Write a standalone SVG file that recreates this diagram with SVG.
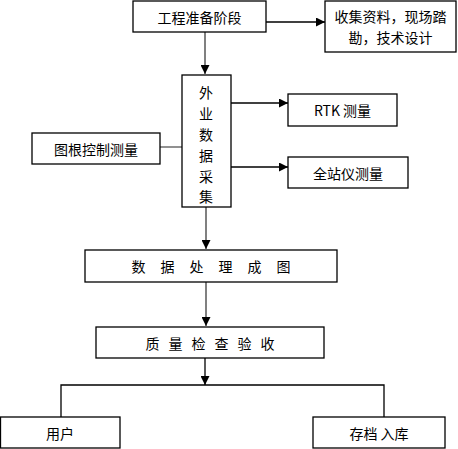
<svg xmlns="http://www.w3.org/2000/svg" width="458" height="449" viewBox="0 0 458 449">
<defs>
<marker id="ah" viewBox="0 0 10 10" refX="10" refY="5" markerWidth="9" markerHeight="9" markerUnits="userSpaceOnUse" orient="auto">
<path d="M0,0 L10,5 L0,10 Z" fill="#000"/>
</marker>
</defs>
<style>
.box{fill:#fff;stroke:#000;stroke-width:1.3}
.t{font-family:"Noto Sans CJK SC","Liberation Sans",sans-serif;font-size:14px;fill:#000;text-anchor:middle;dominant-baseline:central}
.h{stroke:#000;stroke-width:1.3;fill:none}
.v{stroke:#808080;stroke-width:2;fill:none}
</style>
<rect width="458" height="449" fill="#fff"/>
<g id="connectors">
<line class="h" x1="266" y1="22" x2="325" y2="22" marker-end="url(#ah)"/>
<line class="v" x1="205" y1="32" x2="205" y2="74" marker-end="url(#ah)"/>
<line class="h" x1="231" y1="103" x2="288" y2="103" marker-end="url(#ah)"/>
<line class="h" x1="231" y1="167" x2="288" y2="167" marker-end="url(#ah)"/>
<line class="h" x1="160" y1="147" x2="182" y2="147" style="stroke:#555"/>
<line class="v" x1="206" y1="207" x2="206" y2="249" marker-end="url(#ah)"/>
<line class="v" x1="206" y1="282" x2="206" y2="326" marker-end="url(#ah)"/>
<line class="h" x1="205" y1="358" x2="205" y2="385" marker-end="url(#ah)"/>
<polyline class="h" points="61,417 61,385 384,385 384,417"/>
</g>
<g id="n1"><rect class="box" x="133" y="1" width="133" height="31"/><text class="t" x="199.5" y="16.5">工程准备阶段</text></g>
<g id="n2"><rect class="box" x="325" y="1" width="131" height="51"/><text class="t" x="390.5" y="16">收集资料，现场踏</text><text class="t" x="390.5" y="37">勘，技术设计</text></g>
<g id="n3"><rect class="box" x="182" y="75" width="49" height="132"/>
<text class="t" x="206" y="92">外</text><text class="t" x="206" y="113">业</text><text class="t" x="206" y="134">数</text><text class="t" x="206" y="155">据</text><text class="t" x="206" y="176">采</text><text class="t" x="206" y="196">集</text></g>
<g id="n4"><rect class="box" x="288" y="94" width="109" height="32"/><text class="t" x="342.5" y="110">RTK 测量</text></g>
<g id="n5"><rect class="box" x="288" y="157" width="120" height="31"/><text class="t" x="348" y="172.5">全站仪测量</text></g>
<g id="n6"><rect class="box" x="32" y="133" width="128" height="31"/><text class="t" x="96" y="148.5">图根控制测量</text></g>
<g id="n7"><rect class="box" x="85" y="250" width="252" height="32"/><text class="t" x="211" y="266" letter-spacing="15" dx="7.5">数据处理成图</text></g>
<g id="n8"><rect class="box" x="96" y="327" width="228" height="31"/><text class="t" x="210" y="342.5" letter-spacing="9" dx="4.5">质量检查验收</text></g>
<g id="n9"><rect class="box" x="0.5" y="417" width="119.5" height="31"/><text class="t" x="60" y="432.5">用户</text></g>
<g id="n10"><rect class="box" x="313" y="417" width="132" height="31"/><text class="t" x="379" y="432.5">存档 入库</text></g>
</svg>
